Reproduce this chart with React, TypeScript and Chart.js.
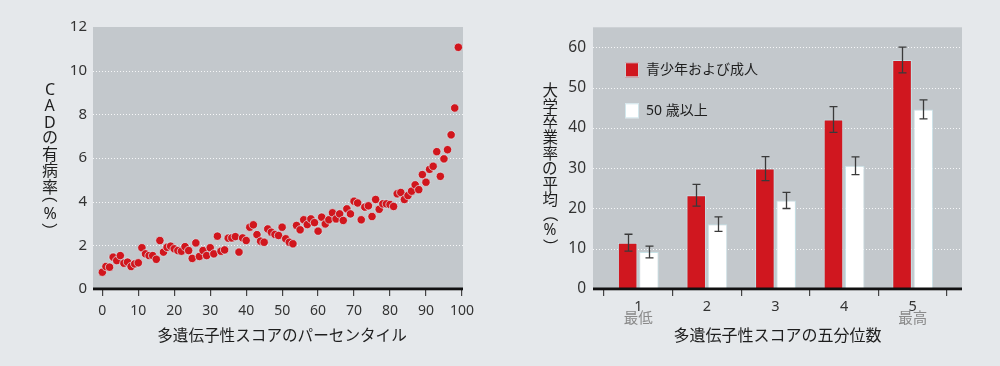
import React, { useEffect, useRef } from 'react';
import { Chart, registerables } from 'chart.js';

Chart.register(...registerables);

// ---------- Data: left chart ----------
const percentiles = [
  0, 1, 2, 3, 4, 5, 6, 7, 8, 9, 10, 11, 12, 13, 14, 15, 16, 17, 18, 19,
  20, 21, 22, 23, 24, 25, 26, 27, 28, 29, 30, 31, 32, 33, 34, 35, 36, 37, 38, 39,
  40, 41, 42, 43, 44, 45, 46, 47, 48, 49, 50, 51, 52, 53, 54, 55, 56, 57, 58, 59,
  60, 61, 62, 63, 64, 65, 66, 67, 68, 69, 70, 71, 72, 73, 74, 75, 76, 77, 78, 79,
  80, 81, 82, 83, 84, 85, 86, 87, 88, 89, 90, 91, 92, 93, 94, 95, 96, 97, 98, 99,
];
const cadPrevalence = [
  0.77, 1.03, 1.0, 1.46, 1.3, 1.53, 1.18, 1.23, 1.03, 1.15,
  1.2, 1.89, 1.61, 1.53, 1.53, 1.36, 2.22, 1.69, 1.91, 1.96,
  1.84, 1.76, 1.73, 1.94, 1.76, 1.4, 2.11, 1.49, 1.76, 1.53,
  1.89, 1.61, 2.42, 1.73, 1.79, 2.33, 2.34, 2.4, 1.69, 2.34,
  2.22, 2.83, 2.94, 2.49, 2.19, 2.14, 2.75, 2.6, 2.5, 2.45,
  2.83, 2.3, 2.14, 2.07, 2.91, 2.71, 3.17, 2.95, 3.21, 3.04,
  2.65, 3.29, 2.98, 3.17, 3.49, 3.21, 3.44, 3.14, 3.67, 3.44,
  4.02, 3.94, 3.17, 3.75, 3.81, 3.32, 4.1, 3.65, 3.9, 3.9,
  3.87, 3.78, 4.36, 4.42, 4.1, 4.28, 4.48, 4.77, 4.55, 5.24,
  4.89, 5.48, 5.62, 6.29, 5.16, 5.96, 6.38, 7.06, 8.29, 11.07,
];
const percentileTicks = [0, 10, 20, 30, 40, 50, 60, 70, 80, 90, 100];
const prevalenceTicks = [0, 2, 4, 6, 8, 10, 12];
const leftYTitle = 'CADの有病率（%）';
const leftXTitle = '多遺伝子性スコアのパーセンタイル';

// ---------- Data: right chart ----------
const quintiles = ['1', '2', '3', '4', '5'];
const quintileNotes = ['最低', '', '', '', '最高'];
const youngLabel = '青少年および成人';
const olderLabel = '50 歳以上';
const youngMeans = [11.5, 23.3, 29.9, 42.1, 56.9];
const youngErr = [2.1, 2.7, 3.0, 3.2, 3.2];
const olderMeans = [9.2, 16.1, 22.0, 30.6, 44.6];
const olderErr = [1.45, 1.8, 2.0, 2.2, 2.35];
const gradTicks = [0, 10, 20, 30, 40, 50, 60];
const rightYTitle = '大学卒業率の平均（%）';
const rightXTitle = '多遺伝子性スコアの五分位数';

// ---------- Styles ----------
const FONT = "'Noto Sans', 'Noto Sans CJK JP', sans-serif";
const PAGE_BG = '#e5e8eb';
const PLOT_BG = '#c3c8cc';
const RED = '#d0171f';
const TICK_COLOR = '#333333';
const TITLE_COLOR = '#1e1e1e';

function drawPlotBg(chart: any, extL: number, extR: number) {
  const { ctx, chartArea: a } = chart;
  ctx.save();
  ctx.fillStyle = PLOT_BG;
  ctx.fillRect(a.left - extL, a.top, a.right - a.left + extL + extR, a.bottom - a.top);
  ctx.restore();
}

function drawDottedGrid(chart: any, extL: number, extR: number) {
  const { ctx, chartArea: a } = chart;
  const y = chart.scales.y;
  ctx.save();
  ctx.strokeStyle = 'rgba(255,255,255,0.85)';
  ctx.lineWidth = 1;
  ctx.setLineDash([1, 2]);
  y.ticks.forEach((t: any) => {
    if (t.value <= y.min || t.value >= y.max) return;
    const py = Math.round(y.getPixelForValue(t.value)) + 0.5;
    ctx.beginPath();
    ctx.moveTo(a.left - extL, py);
    ctx.lineTo(a.right + extR, py);
    ctx.stroke();
  });
  ctx.restore();
}

function drawAxisLine(chart: any, extL: number, extR: number) {
  const { ctx, chartArea: a } = chart;
  ctx.save();
  ctx.fillStyle = '#111111';
  ctx.fillRect(a.left - extL, a.bottom - 1.5, a.right - a.left + extL + extR, 2.8);
  ctx.restore();
}

function drawCharCentered(ctx: CanvasRenderingContext2D, ch: string, cx: number, cy: number, rotate: boolean) {
  ctx.save();
  ctx.textAlign = 'left';
  ctx.textBaseline = 'alphabetic';
  const m = ctx.measureText(ch);
  const inkCx = (m.actualBoundingBoxRight - m.actualBoundingBoxLeft) / 2;
  const inkCy = (m.actualBoundingBoxDescent - m.actualBoundingBoxAscent) / 2;
  ctx.translate(cx, cy);
  if (rotate) ctx.rotate(Math.PI / 2);
  ctx.fillText(ch, -inkCx, -inkCy);
  ctx.restore();
}

function drawVerticalTitle(
  ctx: CanvasRenderingContext2D,
  text: string,
  x: number,
  y0: number,
  cfg: { pitch: number; intoOpen: number; intoPct: number; intoClose: number; size: number }
) {
  ctx.save();
  ctx.fillStyle = TITLE_COLOR;
  ctx.font = `${cfg.size}px ${FONT}`;
  let y = y0;
  const chars = Array.from(text);
  chars.forEach((ch, i) => {
    if (i > 0) {
      if (ch === '（') y += cfg.intoOpen;
      else if (ch === '%') y += cfg.intoPct;
      else if (ch === '）') y += cfg.intoClose;
      else y += cfg.pitch;
    }
    drawCharCentered(ctx, ch, x, y, ch === '（' || ch === '）');
  });
  ctx.restore();
}

function drawCenteredText(ctx: CanvasRenderingContext2D, text: string, x: number, y: number, size: number, color: string) {
  ctx.save();
  ctx.fillStyle = color;
  ctx.font = `${size}px ${FONT}`;
  ctx.textAlign = 'center';
  ctx.textBaseline = 'middle';
  ctx.fillText(text, x, y);
  ctx.restore();
}

const leftDeco = {
  id: 'leftDeco',
  beforeDraw(chart: any) {
    drawPlotBg(chart, 0, 0);
  },
  beforeDatasetsDraw(chart: any) {
    drawDottedGrid(chart, 0, 0);
  },
  afterDatasetsDraw(chart: any) {
    drawAxisLine(chart, 0, 0);
  },
  afterDraw(chart: any) {
    const { ctx, chartArea: a } = chart;
    drawVerticalTitle(ctx, leftYTitle, 50, 89, { pitch: 16.3, intoOpen: 13.5, intoPct: 13, intoClose: 12, size: 16 });
    drawCenteredText(ctx, leftXTitle, (a.left + a.right) / 2 + 4, 336.5, 15.6, TITLE_COLOR);
  },
};

const rightDeco = {
  id: 'rightDeco',
  beforeDraw(chart: any) {
    drawPlotBg(chart, 11, 15);
  },
  beforeDatasetsDraw(chart: any) {
    drawDottedGrid(chart, 11, 15);
  },
  afterDatasetsDraw(chart: any) {
    const { ctx } = chart;
    const yScale = chart.scales.y;
    ctx.save();
    ctx.strokeStyle = '#3a3a3a';
    ctx.lineWidth = 1.3;
    chart.data.datasets.forEach((ds: any, d: number) => {
      const meta = chart.getDatasetMeta(d);
      meta.data.forEach((bar: any, i: number) => {
        const v = ds.data[i];
        const e = ds.errors[i];
        const x = Math.round(bar.x) + 0.5;
        const yTop = yScale.getPixelForValue(v + e);
        const yBot = yScale.getPixelForValue(v - e);
        ctx.beginPath();
        ctx.moveTo(x, yTop);
        ctx.lineTo(x, yBot);
        ctx.moveTo(x - 4, yTop);
        ctx.lineTo(x + 4, yTop);
        ctx.moveTo(x - 4, yBot);
        ctx.lineTo(x + 4, yBot);
        ctx.stroke();
      });
    });
    ctx.restore();
    drawAxisLine(chart, 11, 15);
  },
  afterDraw(chart: any) {
    const { ctx, chartArea: a } = chart;
    // legend
    chart.data.datasets.forEach((ds: any, i: number) => {
      const x = a.left + 21;
      const y = a.top + 35 + i * 41;
      ctx.save();
      ctx.fillStyle = ds.backgroundColor;
      ctx.fillRect(x, y, 14, 15);
      ctx.strokeStyle = 'rgba(205,228,234,0.9)';
      ctx.lineWidth = 1;
      ctx.strokeRect(x + 0.5, y + 0.5, 13, 14);
      ctx.fillStyle = TITLE_COLOR;
      ctx.font = `14px ${FONT}`;
      ctx.textAlign = 'left';
      ctx.textBaseline = 'middle';
      ctx.fillText(ds.label, x + 21, y + 7.5);
      ctx.restore();
    });
    // sub labels under categories
    const xScale = chart.scales.x;
    quintileNotes.forEach((note, i) => {
      if (!note) return;
      drawCenteredText(ctx, note, xScale.getPixelForValue(i), 319, 14.5, '#8a8a8a');
    });
    drawVerticalTitle(ctx, rightYTitle, 50, 90, { pitch: 15.7, intoOpen: 19, intoPct: 10.5, intoClose: 11.5, size: 15.5 });
    drawCenteredText(ctx, rightXTitle, (a.left - 11 + a.right + 15) / 2, 336, 16, TITLE_COLOR);
  },
};

export default function App() {
  const leftRef = useRef<HTMLCanvasElement>(null);
  const rightRef = useRef<HTMLCanvasElement>(null);

  useEffect(() => {
    Chart.defaults.font.family = FONT;
    const left = new Chart(leftRef.current as HTMLCanvasElement, {
      type: 'scatter',
      data: {
        datasets: [
          {
            label: leftYTitle,
            data: percentiles.map((p, i) => ({ x: p, y: cadPrevalence[i] })),
            backgroundColor: '#d1161d',
            borderColor: 'rgba(214,234,240,0.9)',
            borderWidth: 0.8,
            pointRadius: 4.2,
          },
        ],
      },
      options: {
        responsive: false,
        animation: false,
        devicePixelRatio: 1,
        layout: { padding: { top: 27, right: 37, bottom: 0, left: 0 } },
        plugins: { legend: { display: false }, tooltip: { enabled: false } },
        scales: {
          x: {
            type: 'linear',
            min: -2.6,
            max: 100.3,
            afterBuildTicks: (s: any) => {
              s.ticks = percentileTicks.map((v) => ({ value: v }));
            },
            afterFit: (s: any) => {
              s.height = 77;
            },
            grid: { drawOnChartArea: false, drawTicks: true, tickLength: 7, color: '#444444', lineWidth: 1.2 },
            border: { display: false },
            ticks: { color: TICK_COLOR, font: { size: 14 }, padding: 7, maxRotation: 0, autoSkip: false },
          },
          y: {
            type: 'linear',
            min: 0,
            max: 12,
            afterBuildTicks: (s: any) => {
              s.ticks = prevalenceTicks.map((v) => ({ value: v }));
            },
            afterFit: (s: any) => {
              s.width = 93;
            },
            grid: { display: false, drawTicks: false },
            border: { display: false },
            ticks: { color: TICK_COLOR, font: { size: 15 }, padding: 6 },
          },
        },
      },
      plugins: [leftDeco],
    } as any);

    const right = new Chart(rightRef.current as HTMLCanvasElement, {
      type: 'bar',
      data: {
        labels: quintiles,
        datasets: [
          {
            label: youngLabel,
            data: youngMeans,
            errors: youngErr,
            backgroundColor: RED,
            borderColor: 'rgba(200,228,234,0.9)',
            borderWidth: 1,
            categoryPercentage: 0.62,
            barPercentage: 0.92,
          },
          {
            label: olderLabel,
            data: olderMeans,
            errors: olderErr,
            backgroundColor: '#ffffff',
            borderColor: 'rgba(200,228,234,0.9)',
            borderWidth: 1,
            categoryPercentage: 0.62,
            barPercentage: 0.92,
          },
        ],
      },
      options: {
        responsive: false,
        animation: false,
        devicePixelRatio: 1,
        layout: { padding: { top: 17, right: 53, bottom: 0, left: 0 } },
        plugins: { legend: { display: false }, tooltip: { enabled: false } },
        scales: {
          x: {
            type: 'category',
            afterFit: (s: any) => {
              s.height = 77;
            },
            grid: { drawOnChartArea: false, drawTicks: true, tickLength: 7, color: '#444444', lineWidth: 1.2, offset: true },
            border: { display: false },
            ticks: { color: TICK_COLOR, font: { size: 14.5 }, padding: 2, maxRotation: 0, autoSkip: false },
          },
          y: {
            type: 'linear',
            min: 0,
            max: 65,
            afterBuildTicks: (s: any) => {
              s.ticks = gradTicks.map((v) => ({ value: v }));
            },
            afterFit: (s: any) => {
              s.width = 104;
            },
            grid: { display: false, drawTicks: false },
            border: { display: false },
            ticks: { color: TICK_COLOR, font: { size: 15.5 }, padding: 18 },
          },
        },
      },
      plugins: [rightDeco],
    } as any);

    return () => {
      left.destroy();
      right.destroy();
    };
  }, []);

  return (
    <div
      style={{
        position: 'fixed',
        left: 0,
        top: 0,
        width: 1000,
        height: 366,
        background: PAGE_BG,
        overflow: 'hidden',
      }}
    >
      <canvas
        ref={leftRef}
        width={500}
        height={366}
        style={{ position: 'absolute', left: 0, top: 0, width: 500, height: 366 }}
      />
      <canvas
        ref={rightRef}
        width={500}
        height={366}
        style={{ position: 'absolute', left: 500, top: 0, width: 500, height: 366 }}
      />
    </div>
  );
}
